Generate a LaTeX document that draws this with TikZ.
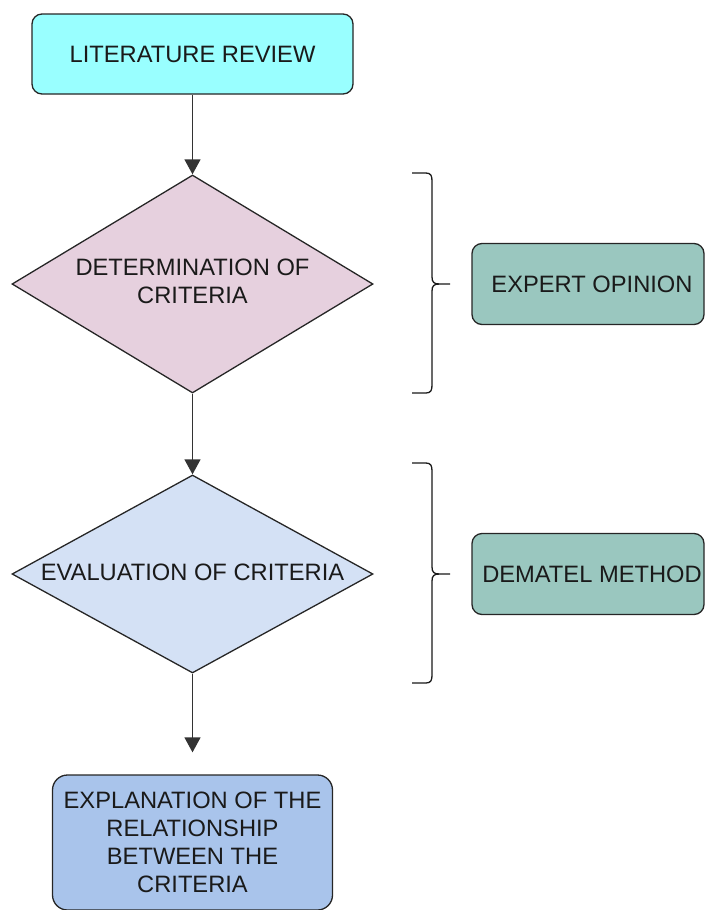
\documentclass[tikz,border=0pt]{standalone}
\usepackage{fontspec}
\setmainfont{Liberation Sans}
\usetikzlibrary{shapes.geometric,arrows.meta}
\definecolor{cyanfill}{HTML}{99FFFF}
\definecolor{pinkfill}{HTML}{E6D0DE}
\definecolor{lbluefill}{HTML}{D4E1F5}
\definecolor{bluefill}{HTML}{A9C4EB}
\definecolor{tealfill}{HTML}{9AC7BF}
\definecolor{txt}{HTML}{1A1A1A}
\tikzset{
  base/.style={draw=black!85, line width=1.3pt, text=txt, font=\fontsize{23.7}{28}\selectfont, align=center, inner sep=0pt},
  rbox/.style={base, rectangle, rounded corners=10pt},
  dmd/.style={draw=black!85, line width=1.3pt, diamond, inner sep=0pt, minimum width=361pt, minimum height=218pt},
  lbl/.style={text=txt, font=\fontsize{23.7}{28}\selectfont, align=center, inner sep=0pt},
  flow/.style={draw=black!80, line width=1.3pt, -{Triangle[length=15pt,width=16pt]}},
  brace/.style={draw=black!90, line width=1.3pt}
}
\begin{document}
\begin{tikzpicture}[x=1pt,y=-1pt]
\useasboundingbox (0,0) rectangle (705,910);
\clip (0,0) rectangle (705,910);
% nodes
\node[rbox, fill=cyanfill, minimum width=321pt, minimum height=80pt] (lit) at (192.5,54) {LITERATURE REVIEW};
\node[dmd, fill=pinkfill] (d1) at (192.5,284) {};
\node[lbl] (d1t) at (192.5,281) {DETERMINATION OF\\CRITERIA};
\node[dmd, fill=lbluefill, minimum height=198pt] (d2) at (192.5,574) {};
\node[lbl] (d2t) at (192.5,572) {EVALUATION OF CRITERIA};
\node[rbox, rounded corners=15pt, fill=bluefill, minimum width=280pt, minimum height=135pt] (res) at (192.5,842.5) {EXPLANATION OF THE\\RELATIONSHIP\\BETWEEN THE\\CRITERIA};
\node[rbox, fill=tealfill, minimum width=232pt, minimum height=81pt] (exp) at (588,284) {\hspace*{8pt}EXPERT OPINION};
\node[rbox, fill=tealfill, minimum width=232pt, minimum height=81pt] (dem) at (588,574) {\hspace*{8pt}DEMATEL METHOD};
% connectors
\draw[flow] (lit.south) -- (d1.north);
\draw[flow] (d1.south) -- (d2.north);
\draw[flow, shorten >=22pt] (d2.south) -- (res.north);
% braces
\draw[brace] (412,173) -- (426,173) .. controls (431,173) and (432,176) .. (432,181)
  -- (432,277) .. controls (432,282) and (434,284) .. (439,284) -- (450,284);
\draw[brace] (439,284) .. controls (434,284) and (432,286) .. (432,291)
  -- (432,385) .. controls (432,390) and (431,393) .. (426,393) -- (412,393);
\draw[brace] (412,463) -- (426,463) .. controls (431,463) and (432,466) .. (432,471)
  -- (432,567) .. controls (432,572) and (434,574) .. (439,574) -- (450,574);
\draw[brace] (439,574) .. controls (434,574) and (432,576) .. (432,581)
  -- (432,675) .. controls (432,680) and (431,683) .. (426,683) -- (412,683);
\end{tikzpicture}
\end{document}
